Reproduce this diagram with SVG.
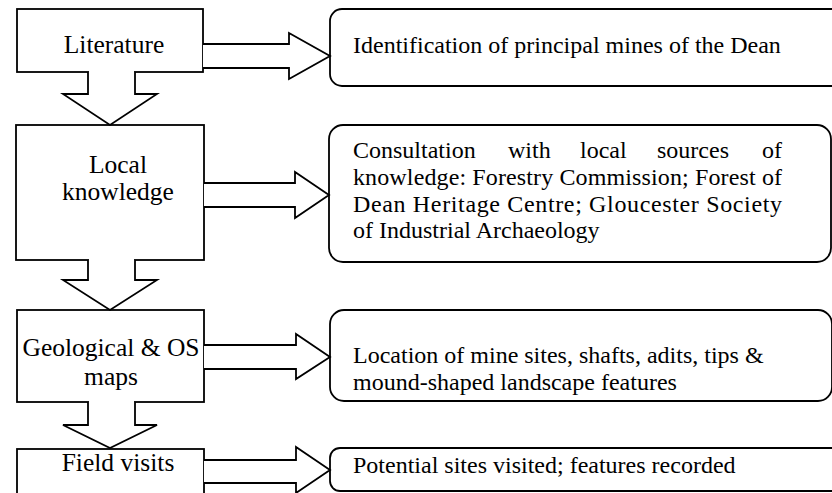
<svg xmlns="http://www.w3.org/2000/svg" width="832" height="493" viewBox="0 0 832 493" font-family="Liberation Serif, Times New Roman, DejaVu Serif, serif">
<style>
.box{fill:#fff;stroke:#000;stroke-width:1.8}
.arr{fill:#fff;stroke:#000;stroke-width:1.8;stroke-linejoin:miter}
.gap{fill:#fff;stroke:none}
.lt{font-size:25.5px;text-anchor:middle}
.rt{font-size:24px}
</style>
<rect width="832" height="493" fill="#fff"/>
<g id="node-literature">
<rect class="box" x="17" y="9" width="186" height="63"/>
<text class="lt" x="114" y="53">Literature</text>
</g>
<g id="node-local">
<rect class="box" x="16" y="125" width="188" height="135"/>
<text class="lt" x="118" y="173">Local</text>
<text class="lt" x="118" y="200">knowledge</text>
</g>
<g id="node-geo">
<rect class="box" x="17" y="310" width="187" height="92"/>
<text class="lt" x="111" y="356">Geological &amp; OS</text>
<text class="lt" x="111" y="385">maps</text>
</g>
<g id="node-field">
<rect class="box" x="17" y="449" width="187" height="50"/>
<text class="lt" x="118" y="471">Field visits</text>
</g>
<g id="node-identification">
<rect class="box" x="330" y="9" width="520" height="77" rx="12"/>
<text class="rt" x="353" y="53">Identification of principal mines of the Dean</text>
</g>
<g id="node-consultation">
<rect class="box" x="329" y="125" width="502" height="137" rx="14"/>
<text class="rt" x="353" y="158">Consultation</text>
<text class="rt" x="508" y="158">with</text>
<text class="rt" x="580" y="158">local</text>
<text class="rt" x="657" y="158">sources</text>
<text class="rt" x="782" y="158" text-anchor="end">of</text>
<text class="rt" x="353" y="185" textLength="429" lengthAdjust="spacing">knowledge: Forestry Commission; Forest of</text>
<text class="rt" x="353" y="212" textLength="429" lengthAdjust="spacing">Dean Heritage Centre; Gloucester Society</text>
<text class="rt" x="353" y="238">of Industrial Archaeology</text>
</g>
<g id="node-location">
<rect class="box" x="330" y="310" width="502" height="91" rx="14"/>
<text class="rt" x="353" y="363">Location of mine sites, shafts, adits, tips &amp;</text>
<text class="rt" x="353" y="390">mound-shaped landscape features</text>
</g>
<g id="node-potential">
<rect class="box" x="330" y="448" width="520" height="43" rx="10"/>
<text class="rt" x="353" y="473">Potential sites visited; features recorded</text>
</g>
<g id="connectors">
<path class="arr" d="M203,44 H289 V33 L330,56 L289,79 V68 H203"/>
<path class="arr" d="M204,183 H295 V172 L329,195 L295,218 V207 H204"/>
<path class="arr" d="M204,345 H296 V334 L330,357 L296,379 V369 H204"/>
<path class="arr" d="M204,460 H296 V447 L330,470 L296,493 V483 H204"/>
<rect class="gap" x="89" y="70" width="45" height="4"/>
<path class="arr" d="M88,72 V94 H63 L110,125 L157,94 H135 V72"/>
<rect class="gap" x="89" y="258" width="45" height="4"/>
<path class="arr" d="M88,260 V280 H63 L110,310 L157,280 H135 V260"/>
<rect class="gap" x="89" y="400" width="45" height="4"/>
<path class="arr" d="M88,402 V425 H63 L110,448 L157,425 H135 V402"/>
</g>
</svg>
